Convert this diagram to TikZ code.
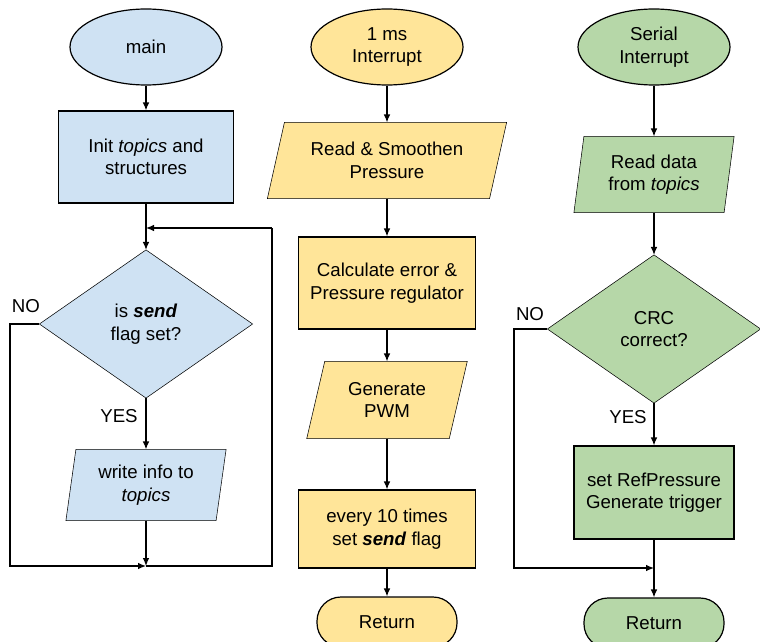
\documentclass[tikz,border=0pt]{standalone}
\usepackage{fontspec}
\setmainfont{Liberation Sans}
\usetikzlibrary{arrows.meta,backgrounds,shapes.geometric}
\definecolor{cblue}{HTML}{CFE2F3}
\definecolor{cyellow}{HTML}{FFE599}
\definecolor{cgreen}{HTML}{B6D7A8}
\begin{document}
\begin{tikzpicture}[x=0.75pt,y=-0.75pt, line width=0.9pt,
  every node/.style={font=\fontsize{14}{16.8}\selectfont, align=center},
  arr/.style={-{Latex[length=6pt,width=5pt]}},
  term/.style={ellipse, draw, inner sep=0pt, minimum width=114pt, minimum height=57pt},
  proc/.style={rectangle, draw, inner sep=0pt},
  ret/.style={rectangle, rounded corners=18pt, draw, inner sep=0pt, minimum width=105pt, minimum height=37.5pt},
  txt/.style={rectangle, inner sep=0pt},
  lbl/.style={inner sep=0pt}
]
\useasboundingbox (0,0) rectangle (760,642);

% ---------- column 1 ----------
\node[term, fill=cblue] (m1) at (146,47) {main};
\node[proc, fill=cblue, minimum width=131.25pt, minimum height=69pt] (i1) at (146,157) {Init \textit{topics} and\\structures};
\node[txt, minimum width=159pt, minimum height=110.25pt] (d1) at (146,324) {is \textbf{\textit{send}}\\flag set?};
\node[txt, minimum width=111.75pt, minimum height=52.5pt] (w1) at (146,485) {write info to\\\textit{topics}};
\node[lbl] (no1) at (26,306) {NO};
\node[lbl] (yes1) at (119,416) {YES};
\coordinate (j1) at (146,566);
\coordinate (l1) at (10,324);
\coordinate (l1b) at (10,566);
\coordinate (r1) at (272,566);
\coordinate (r1t) at (272,228);
\coordinate (t1) at (146,228);

% ---------- column 2 ----------
\node[term, fill=cyellow] (m2) at (387,47) {1 ms\\Interrupt};
\node[txt, minimum width=165.75pt, minimum height=56.25pt] (p2) at (387,160.5) {Read \& Smoothen\\Pressure};
\node[proc, fill=cyellow, minimum width=132.75pt, minimum height=69pt] (c2) at (387,283) {Calculate error \&\\Pressure regulator};
\node[txt, minimum width=106pt, minimum height=57pt] (g2) at (387,400) {Generate\\PWM};
\node[proc, fill=cyellow, minimum width=132.75pt, minimum height=58.5pt] (e2) at (387,529) {every 10 times\\set \textbf{\textit{send}} flag};
\node[ret, fill=cyellow] (r2) at (387,622) {Return};

% ---------- column 3 ----------
\node[term, fill=cgreen] (m3) at (654,47) {Serial\\Interrupt};
\node[txt, minimum width=111.75pt, minimum height=56.25pt] (p3) at (654,174.5) {Read data\\from \textit{topics}};
\node[txt, minimum width=159pt, minimum height=110.25pt] (d3) at (654,329) {CRC\\correct?};
\node[proc, fill=cgreen, minimum width=120pt, minimum height=69.75pt] (s3) at (654,492.5) {set RefPressure\\Generate trigger};
\node[ret, fill=cgreen] (r3) at (654,623) {Return};
\node[lbl] (no3) at (530,314) {NO};
\node[lbl] (yes3) at (628,417) {YES};
\coordinate (j3) at (654,568);
\coordinate (l3) at (514,329);
\coordinate (l3b) at (514,568);

% ---------- background shapes ----------
\begin{scope}[on background layer]
  \draw[fill=cblue] (d1.north) -- (d1.east) -- (d1.south) -- (d1.west) -- cycle;
  \draw[fill=cblue] ([xshift=3.75pt]w1.north west) -- ([xshift=3.75pt]w1.north east) -- ([xshift=-3.75pt]w1.south east) -- ([xshift=-3.75pt]w1.south west) -- cycle;
  \draw[fill=cyellow] ([xshift=6.4pt]p2.north west) -- ([xshift=6.4pt]p2.north east) -- ([xshift=-6.4pt]p2.south east) -- ([xshift=-6.4pt]p2.south west) -- cycle;
  \draw[fill=cyellow] ([xshift=6.75pt]g2.north west) -- ([xshift=6.75pt]g2.north east) -- ([xshift=-6.75pt]g2.south east) -- ([xshift=-6.75pt]g2.south west) -- cycle;
  \draw[fill=cgreen] ([xshift=3.75pt]p3.north west) -- ([xshift=3.75pt]p3.north east) -- ([xshift=-3.75pt]p3.south east) -- ([xshift=-3.75pt]p3.south west) -- cycle;
  \draw[fill=cgreen] (d3.north) -- (d3.east) -- (d3.south) -- (d3.west) -- cycle;
\end{scope}

% ---------- connectors ----------
\draw[arr] (m1) -- (i1);
\draw[arr] (i1) -- (d1);
\draw[arr] (d1) -- (w1);
\draw[arr] (w1) -- (j1);
\draw[arr] (d1.west) -- (l1) -- (l1b) -- (j1);
\draw (j1) -- (r1) -- (r1t);
\draw[arr] (r1t) -- (t1);

\draw[arr] (m2) -- (p2);
\draw[arr] (p2) -- (c2);
\draw[arr] (c2) -- (g2);
\draw[arr] (g2) -- (e2);
\draw[arr] (e2) -- (r2);

\draw[arr] (m3) -- (p3);
\draw[arr] (p3) -- (d3);
\draw[arr] (d3) -- (s3);
\draw[arr] (s3) -- (r3);
\draw[arr] (d3.west) -- (l3) -- (l3b) -- (j3);
\end{tikzpicture}
\end{document}
